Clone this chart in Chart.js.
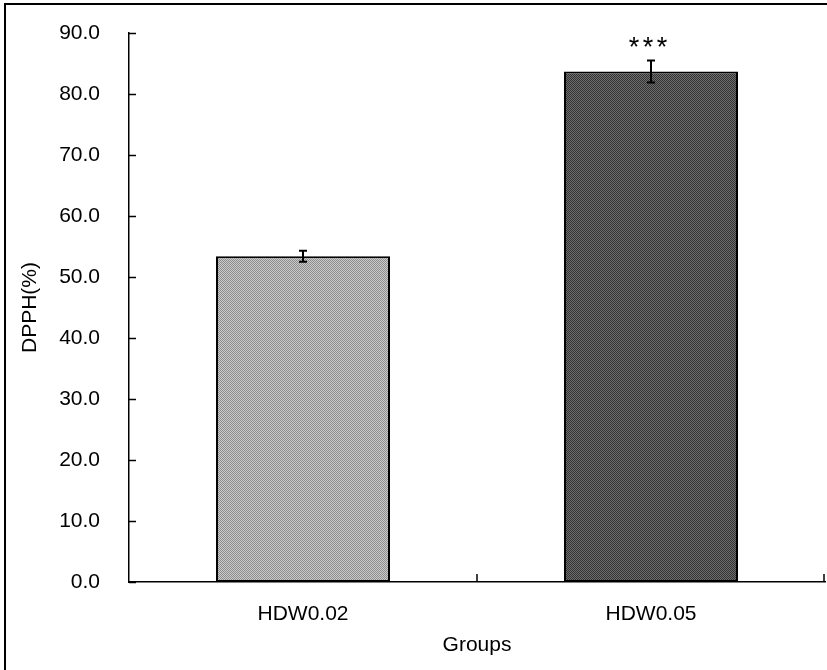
<!DOCTYPE html>
<html>
<head>
<meta charset="utf-8">
<script src="https://cdn.jsdelivr.net/npm/chart.js@4"></script>
<style>
  body { margin: 0; background: #fff; }
  #wrap { width: 827px; height: 670px; }
</style>
</head>
<body>
<div id="wrap"><canvas id="chartDpph" width="827" height="670"></canvas></div>
<script>
const groups = ['HDW0.02', 'HDW0.05'];
const dpph = [53.4, 83.7];
const dpphErr = [0.9, 1.8];
const signif = ['', '***'];
const yTicks = [0, 10, 20, 30, 40, 50, 60, 70, 80, 90];

const FONT = { family: '"Liberation Sans", Arial, sans-serif', size: 21 };

// dithered grey fill like the scanned print
function dither(c1, c2) {
    const p = document.createElement('canvas');
    p.width = 2; p.height = 2;
    const g = p.getContext('2d');
    g.fillStyle = c1; g.fillRect(0, 0, 2, 2);
    g.fillStyle = c2; g.fillRect(0, 0, 1, 1); g.fillRect(1, 1, 1, 1);
    return g.createPattern(p, 'repeat');
}
const ctx0 = document.getElementById('chartDpph').getContext('2d');
const fills = [dither('#cbcbcb', '#8c8c8c'), dither('#6e6e6e', '#333333')];

const extras = {
    id: 'extras',
    afterDatasetsDraw(chart) {
        const ctx = chart.ctx;
        const x = chart.scales.x, y = chart.scales.y;
        const area = chart.chartArea;
        ctx.save();
        ctx.strokeStyle = '#000';
        ctx.fillStyle = '#000';

        // frame (left + top only, rest cropped)
        ctx.lineWidth = 2;
        ctx.beginPath();
        ctx.moveTo(5, 670); ctx.lineTo(5, 4); ctx.lineTo(827, 4);
        ctx.stroke();

        // inward ticks on y axis
        ctx.lineWidth = 1.5;
        yTicks.forEach(v => {
            const py = Math.round(y.getPixelForValue(v)) + 0.5;
            ctx.beginPath();
            ctx.moveTo(area.left, py); ctx.lineTo(area.left + 7, py);
            ctx.stroke();
        });
        // inward ticks on x axis at category boundaries
        for (let i = 1; i <= groups.length; i++) {
            const px = (x.getPixelForValue(i - 1) + x.getPixelForValue(i)) / 2;
            const bx = i === groups.length ? area.right - 1 : px;
            ctx.beginPath();
            ctx.moveTo(bx, area.bottom); ctx.lineTo(bx, area.bottom - 8);
            ctx.stroke();
        }

        // error bars and significance marks
        ctx.lineWidth = 2;
        dpph.forEach((v, i) => {
            const px = x.getPixelForValue(i);
            const top = y.getPixelForValue(v + dpphErr[i]);
            const bot = y.getPixelForValue(v - dpphErr[i]);
            ctx.beginPath();
            ctx.moveTo(px, top); ctx.lineTo(px, bot);
            ctx.moveTo(px - 4, top); ctx.lineTo(px + 4, top);
            ctx.moveTo(px - 4, bot); ctx.lineTo(px + 4, bot);
            ctx.stroke();
            if (signif[i]) {
                ctx.font = '27px ' + FONT.family;
                ctx.textAlign = 'center';
                ctx.textBaseline = 'alphabetic';
                const n = signif[i].length;
                for (let k = 0; k < n; k++) {
                    ctx.fillText(signif[i][k], px - 3 + (k - (n - 1) / 2) * 14, top - 4);
                }
            }
        });
        ctx.restore();
    }
};

new Chart(ctx0, {
    type: 'bar',
    data: {
        labels: groups,
        datasets: [{
            label: 'DPPH(%)',
            data: dpph,
            backgroundColor: fills,
            borderColor: '#000',
            borderWidth: 2,
            borderSkipped: false,
            categoryPercentage: 1.0,
            barPercentage: 0.5
        }]
    },
    options: {
        responsive: false,
        animation: false,
        layout: { padding: { top: 33, right: 2, left: 0, bottom: 0 } },
        plugins: { legend: { display: false }, tooltip: { enabled: false } },
        scales: {
            x: {
                grid: { display: false, drawTicks: false },
                border: { display: true, color: '#000', width: 1.5 },
                ticks: { color: '#000', font: FONT, padding: 20 },
                title: { display: true, text: 'Groups', color: '#000', font: FONT, padding: { top: 0, bottom: 12 } },
                afterFit: s => { s.height = 88; }
            },
            y: {
                min: 0, max: 90,
                grid: { display: false, drawTicks: false },
                border: { display: true, color: '#000', width: 1.5 },
                ticks: { color: '#000', font: FONT, stepSize: 10, padding: 29, callback: v => v.toFixed(1) },
                title: { display: true, text: 'DPPH(%)', color: '#000', font: FONT, padding: { top: 18, bottom: 0 } },
                afterFit: s => { s.width = 129; s.paddingTop = 0; s.paddingBottom = 0; }
            }
        }
    },
    plugins: [extras]
});
</script>
</body>
</html>
